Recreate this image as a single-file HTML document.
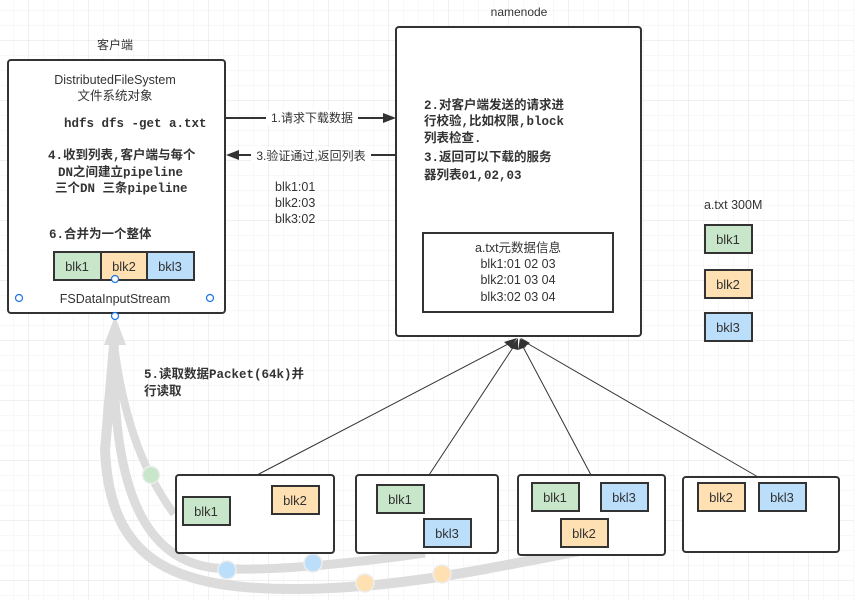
<!DOCTYPE html>
<html><head><meta charset="utf-8"><style>
html,body{margin:0;padding:0;background:#fff}
svg{display:block}
text{font-family:"Liberation Sans","Noto Sans CJK SC",sans-serif;fill:#333}
.m{font-family:"Liberation Mono","Noto Sans CJK SC",monospace;font-weight:bold;fill:#333}
</style></head><body>
<svg width="854" height="600" viewBox="0 0 854 600" xmlns="http://www.w3.org/2000/svg">
<defs>
<pattern id="g1" width="15" height="15" patternUnits="userSpaceOnUse" x="13" y="10"><path d="M0 0H15M0 0V15" stroke="#f0f0f0" stroke-width="1" fill="none"/></pattern>
<pattern id="g2" width="60" height="60" patternUnits="userSpaceOnUse" x="28" y="40"><path d="M0 0H60M0 0V60" stroke="#e2e2e2" stroke-width="1" fill="none"/></pattern>
</defs>
<rect width="854" height="600" fill="url(#g1)"/>
<rect width="854" height="600" fill="url(#g2)"/>

<text x="115" y="49" font-size="12" text-anchor="middle">客户端</text>
<text x="519" y="16" font-size="12" text-anchor="middle">namenode</text>

<rect x="8" y="60" width="217" height="253" rx="3" fill="#fff" stroke="#333" stroke-width="2"/>
<text x="115" y="84" font-size="12.5" text-anchor="middle">DistributedFileSystem</text>
<text x="115" y="100" font-size="12.5" text-anchor="middle">文件系统对象</text>
<text class="m" x="64" y="127" font-size="12.5">hdfs dfs -get a.txt</text>
<text class="m" x="48" y="159" font-size="12.5">4.收到列表,客户端与每个</text>
<text class="m" x="58" y="176" font-size="12.5">DN之间建立pipeline</text>
<text class="m" x="55" y="192" font-size="12.5">三个DN 三条pipeline</text>
<text class="m" x="49" y="238" font-size="12.5">6.合并为一个整体</text>
<rect x="54" y="252" width="47" height="28" fill="#c8e6c9" stroke="#333" stroke-width="2"/>
<rect x="101" y="252" width="46" height="28" fill="#ffe0b2" stroke="#333" stroke-width="2"/>
<rect x="147" y="252" width="47" height="28" fill="#bbdefb" stroke="#333" stroke-width="2"/>
<text x="77" y="271" font-size="13" text-anchor="middle">blk1</text>
<text x="124" y="271" font-size="13" text-anchor="middle">blk2</text>
<text x="170" y="271" font-size="13" text-anchor="middle">bkl3</text>
<text x="115" y="303" font-size="12.5" text-anchor="middle">FSDataInputStream</text>

<rect x="396" y="27" width="245" height="309" rx="3" fill="#fff" stroke="#333" stroke-width="2"/>
<text class="m" x="424" y="109" font-size="12.5">2.对客户端发送的请求进</text>
<text class="m" x="424" y="125" font-size="12.5">行校验,比如权限,block</text>
<text class="m" x="424" y="142" font-size="12.5">列表检查.</text>
<text class="m" x="424" y="161" font-size="12.5">3.返回可以下载的服务</text>
<text class="m" x="424" y="179" font-size="12.5">器列表01,02,03</text>
<rect x="423" y="233" width="190" height="79" fill="#fff" stroke="#333" stroke-width="2"/>
<text x="518" y="252" font-size="12.5" text-anchor="middle">a.txt元数据信息</text>
<text x="518" y="268" font-size="12.5" text-anchor="middle">blk1:01 02 03</text>
<text x="518" y="284" font-size="12.5" text-anchor="middle">blk2:01 03 04</text>
<text x="518" y="301" font-size="12.5" text-anchor="middle">blk3:02 03 04</text>

<line x1="226" y1="118" x2="386" y2="118" stroke="#333" stroke-width="2"/>
<path d="M396 118 L383 113 L383 123 Z" fill="#333"/>
<rect x="266" y="110" width="92" height="16" fill="#fff"/>
<text x="312" y="122" font-size="12" text-anchor="middle">1.请求下载数据</text>
<line x1="236" y1="155" x2="396" y2="155" stroke="#333" stroke-width="2"/>
<path d="M226 155 L239 150 L239 160 Z" fill="#333"/>
<rect x="251" y="147" width="120" height="16" fill="#fff"/>
<text x="311" y="160" font-size="12" text-anchor="middle">3.验证通过,返回列表</text>
<text x="275" y="191" font-size="12.5">blk1:01</text>
<text x="275" y="207" font-size="12.5">blk2:03</text>
<text x="275" y="223" font-size="12.5">blk3:02</text>

<text x="704" y="209" font-size="12.5">a.txt  300M</text>
<rect x="705" y="225" width="47" height="28" fill="#c8e6c9" stroke="#333" stroke-width="2"/>
<rect x="705" y="270" width="47" height="28" fill="#ffe0b2" stroke="#333" stroke-width="2"/>
<rect x="705" y="313" width="47" height="28" fill="#bbdefb" stroke="#333" stroke-width="2"/>
<text x="728" y="244" font-size="13" text-anchor="middle">blk1</text>
<text x="728" y="289" font-size="13" text-anchor="middle">blk2</text>
<text x="728" y="332" font-size="13" text-anchor="middle">bkl3</text>

<g stroke="#333" stroke-width="1" fill="none">
<line x1="257" y1="475" x2="512" y2="342"/>
<line x1="429" y1="475" x2="516" y2="343"/>
<line x1="591" y1="475" x2="521" y2="343"/>
<line x1="758" y1="477" x2="525" y2="342"/>
</g>
<g fill="#333">
<path d="M517 338 L504 342 L511 348 Z"/>
<path d="M518 338 L510 348 L518 350 Z"/>
<path d="M520 338 L518 350 L526 347 Z"/>
<path d="M521 338 L523 348 L530 343 Z"/>
</g>

<g stroke="#dcdcdc" fill="none" stroke-linecap="butt">
<path d="M174 514 C148 478 125 430 114 345" stroke-width="8"/>
<path d="M425 553 C340 565 260 572 215 568 C140 560 112 480 114 345" stroke-width="9"/>
<path d="M590 549 C480 570 400 588 300 589 C170 590 110 560 105 450 L114 345" stroke-width="10"/>
</g>
<path d="M115 316 L126 345 L104 345 Z" fill="#dcdcdc"/>
<circle cx="151" cy="475" r="8.5" fill="#c8e6c9" stroke="#eee" stroke-width="1.5"/>
<circle cx="227" cy="570" r="9" fill="#bbdefb" stroke="#eee" stroke-width="1.5"/>
<circle cx="313" cy="563" r="9" fill="#bbdefb" stroke="#eee" stroke-width="1.5"/>
<circle cx="365" cy="583" r="9" fill="#ffe0b2" stroke="#eee" stroke-width="1.5"/>
<circle cx="442" cy="574" r="9" fill="#ffe0b2" stroke="#eee" stroke-width="1.5"/>
<text class="m" x="144" y="378" font-size="12.5">5.读取数据Packet(64k)并</text>
<text class="m" x="144" y="395" font-size="12.5">行读取</text>

<g fill="#fff" stroke="#333" stroke-width="2">
<rect x="176" y="475" width="158" height="78" rx="3"/>
<rect x="356" y="475" width="142" height="78" rx="3"/>
<rect x="518" y="475" width="147" height="80" rx="3"/>
<rect x="683" y="477" width="156" height="75" rx="3"/>
</g>
<g stroke="#333" stroke-width="2">
<rect x="183" y="497" width="47" height="28" fill="#c8e6c9"/>
<rect x="272" y="486" width="47" height="28" fill="#ffe0b2"/>
<rect x="377" y="485" width="47" height="28" fill="#c8e6c9"/>
<rect x="424" y="519" width="47" height="28" fill="#bbdefb"/>
<rect x="532" y="483" width="47" height="28" fill="#c8e6c9"/>
<rect x="601" y="483" width="47" height="28" fill="#bbdefb"/>
<rect x="561" y="519" width="47" height="28" fill="#ffe0b2"/>
<rect x="698" y="483" width="47" height="28" fill="#ffe0b2"/>
<rect x="759" y="483" width="47" height="28" fill="#bbdefb"/>
</g>
<g font-size="13" text-anchor="middle">
<text x="206" y="516">blk1</text>
<text x="295" y="505">blk2</text>
<text x="400" y="504">blk1</text>
<text x="447" y="538">bkl3</text>
<text x="555" y="502">blk1</text>
<text x="624" y="502">bkl3</text>
<text x="584" y="538">blk2</text>
<text x="721" y="502">blk2</text>
<text x="782" y="502">bkl3</text>
</g>

<g fill="#fff" stroke="#1a73e8" stroke-width="1.2">
<circle cx="115" cy="279" r="3.5"/>
<circle cx="115" cy="316" r="3.5"/>
<circle cx="19" cy="298" r="3.5"/>
<circle cx="210" cy="298" r="3.5"/>
</g>
</svg>
</body></html>
